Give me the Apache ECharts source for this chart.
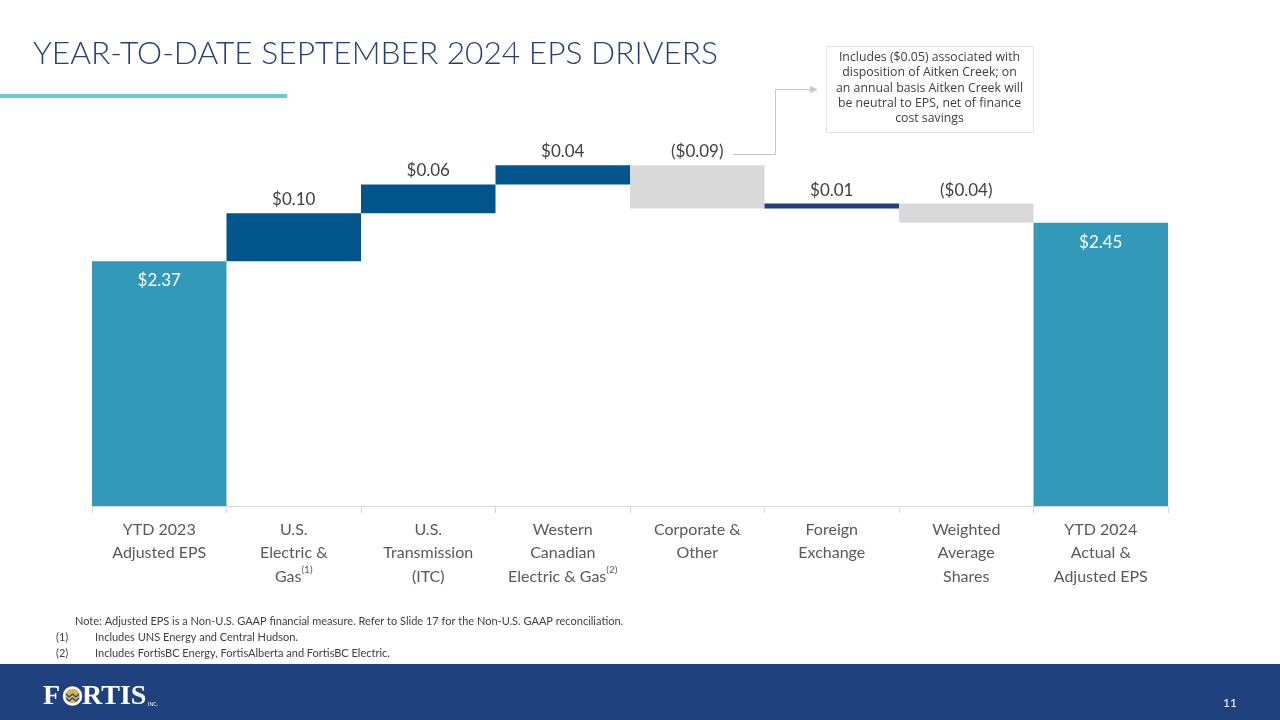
<!DOCTYPE html>
<html>
<head>
<meta charset="utf-8">
<script src="https://cdn.jsdelivr.net/npm/echarts@6/dist/echarts.min.js"></script>
<style>
html,body{margin:0;padding:0;background:#fff;}
#chart{width:1280px;height:720px;}
</style>
</head>
<body>
<div id="chart"></div>
<script>
// ---- data ----
const categories = [
  "YTD 2023\nAdjusted EPS",
  "U.S.\nElectric &\nGas",
  "U.S.\nTransmission\n(ITC)",
  "Western\nCanadian\nElectric & Gas",
  "Corporate &\nOther",
  "Foreign\nExchange",
  "Weighted\nAverage\nShares",
  "YTD 2024\nActual &\nAdjusted EPS"
];
const footnoteMarks = ["", "(1)", "", "(2)", "", "", "", ""];
const startEPS = 2.37;
const drivers = [0.10, 0.06, 0.04, -0.09, 0.01, -0.04];
const endEPS = 2.45;
const yTicks = { min: 1.86, max: 2.61 };

const titleText = "YEAR-TO-DATE SEPTEMBER 2024 EPS DRIVERS";
const calloutLines = [
  "Includes ($0.05) associated with",
  "disposition of Aitken Creek; on",
  "an annual basis Aitken Creek will",
  "be neutral to EPS, net of finance",
  "cost savings"
];
const noteText = "Note: Adjusted EPS is a Non-U.S. GAAP financial measure. Refer to Slide 17 for the Non-U.S. GAAP reconciliation.";
const footnotes = [
  ["(1)", "Includes UNS Energy and Central Hudson."],
  ["(2)", "Includes FortisBC Energy, FortisAlberta and FortisBC Electric."]
];
const pageNumber = "11";

// ---- build waterfall ----
const baseData = [];
const barData = [];
let level = startEPS;
baseData.push(0);
barData.push({ value: startEPS, kind: "total", delta: startEPS });
drivers.forEach((d, i) => {
  const next = Math.round((level + d) * 100) / 100;
  baseData.push(Math.min(level, next));
  barData.push({ value: Math.abs(d), kind: i === 4 ? "fx" : (d >= 0 ? "up" : "down"), delta: d });
  level = next;
});
baseData.push(0);
barData.push({ value: endEPS, kind: "total", delta: endEPS });

const colorFor = { total: "#3399b9", up: "#02558a", down: "#d9d9d9", fx: "#1f3f7a" };
const fmt = v => (v < 0 ? "($" + Math.abs(v).toFixed(2) + ")" : "$" + v.toFixed(2));

const FONT = "Lato, 'Open Sans', sans-serif";

const seriesData = barData.map(b => ({
  value: b.value,
  itemStyle: { color: colorFor[b.kind] },
  label: b.kind === "total"
    ? { show: true, position: "insideTop", distance: 11, color: "#ffffff", fontSize: 17, fontFamily: FONT, formatter: () => fmt(b.delta) }
    : { show: true, position: "top", distance: 5, color: "#404040", fontSize: 17, fontFamily: FONT, formatter: () => fmt(b.delta) }
}));

const chart = echarts.init(document.getElementById("chart"), null, { renderer: "canvas" });

const LOGO_FONT = "bold 28px 'Liberation Serif', 'DejaVu Serif', serif";
const graphics = [
  { type: "text", left: 33, top: 38, style: { text: titleText, fill: "#24407b", font: "300 31.7px Lato, 'Open Sans', sans-serif" } },
  { type: "rect", shape: { x: 0, y: 94, width: 287, height: 4 }, style: { fill: "#6cc8d0" } },
  { type: "rect", shape: { x: 826.5, y: 46.5, width: 207, height: 86 }, style: { fill: "#fff", stroke: "#e4e4e4", lineWidth: 1 } },
  { type: "text", x: 929.5, y: 49.5, style: { text: calloutLines.join("\n"), fill: "#404040", font: "12.3px 'Open Sans', sans-serif", lineHeight: 15.4, align: "center", verticalAlign: "top" } },
  { type: "polyline", shape: { points: [[733, 154.5], [775.5, 154.5], [775.5, 89.5], [812, 89.5]] }, style: { stroke: "#c8c8c8", lineWidth: 1, fill: null } },
  { type: "polygon", shape: { points: [[818, 89.5], [810, 86], [810, 93]] }, style: { fill: "#c8c8c8" } },
  { type: "text", x: 75, y: 621, style: { text: noteText, fill: "#404040", font: "11px " + FONT, verticalAlign: "middle" } },
  { type: "text", x: 56, y: 637, style: { text: footnotes[0][0], fill: "#404040", font: "11px " + FONT, verticalAlign: "middle" } },
  { type: "text", x: 95, y: 637, style: { text: footnotes[0][1], fill: "#404040", font: "11px " + FONT, verticalAlign: "middle" } },
  { type: "text", x: 56, y: 653, style: { text: footnotes[1][0], fill: "#404040", font: "11px " + FONT, verticalAlign: "middle" } },
  { type: "text", x: 95, y: 653, style: { text: footnotes[1][1], fill: "#404040", font: "11px " + FONT, verticalAlign: "middle" } },
  { type: "rect", shape: { x: 0, y: 664, width: 1280, height: 56 }, style: { fill: "#1f417e" } },
  // logo
  { type: "text", x: 43, y: 697, style: { text: "F", fill: "#ffffff", font: LOGO_FONT, verticalAlign: "middle" } },
  { type: "circle", shape: { cx: 72.5, cy: 696, r: 8.5 }, style: { fill: "#d6b24c", stroke: "#ffffff", lineWidth: 2.5 } },
  { type: "polyline", shape: { points: [[66, 694], [69, 697], [72.5, 694], [76, 697], [79, 694]] }, style: { stroke: "#1f417e", lineWidth: 1.2, fill: null } },
  { type: "polyline", shape: { points: [[66, 698], [69, 701], [72.5, 698], [76, 701], [79, 698]] }, style: { stroke: "#1f417e", lineWidth: 1.2, fill: null } },
  { type: "text", x: 82, y: 697, style: { text: "RTIS", fill: "#ffffff", font: LOGO_FONT, verticalAlign: "middle" } },
  { type: "text", x: 148, y: 704, style: { text: "INC.", fill: "#ffffff", font: "5px " + FONT, verticalAlign: "middle" } },
  { type: "text", x: 1230, y: 703, style: { text: pageNumber, fill: "#ffffff", font: "12px " + FONT, align: "center", verticalAlign: "middle" } }
];

chart.setOption({
  animation: false,
  grid: { left: 92, right: 112, top: 146, bottom: 214, containLabel: false },
  xAxis: {
    type: "category",
    data: categories,
    axisLine: { lineStyle: { color: "#d9d9d9" } },
    axisTick: { show: true, length: 7, lineStyle: { color: "#d9d9d9" } },
    axisLabel: {
      interval: 0, margin: 12, color: "#595959", fontSize: 16, fontFamily: FONT, lineHeight: 23.5,
      formatter: (v, i) => footnoteMarks[i] ? v + "{sup|" + footnoteMarks[i] + "}" : v,
      rich: { sup: { fontSize: 10, color: "#595959", fontFamily: FONT, verticalAlign: "top", lineHeight: 23.5, padding: [0, 0, 8, 0] } }
    }
  },
  yAxis: {
    type: "value", min: yTicks.min, max: yTicks.max, show: false,
    splitLine: { show: false }
  },
  series: [
    { type: "bar", stack: "w", data: baseData, itemStyle: { color: "transparent" }, barCategoryGap: 0, silent: true },
    { type: "bar", stack: "w", data: seriesData, barCategoryGap: 0 }
  ],
  graphic: graphics
});
</script>
</body>
</html>
